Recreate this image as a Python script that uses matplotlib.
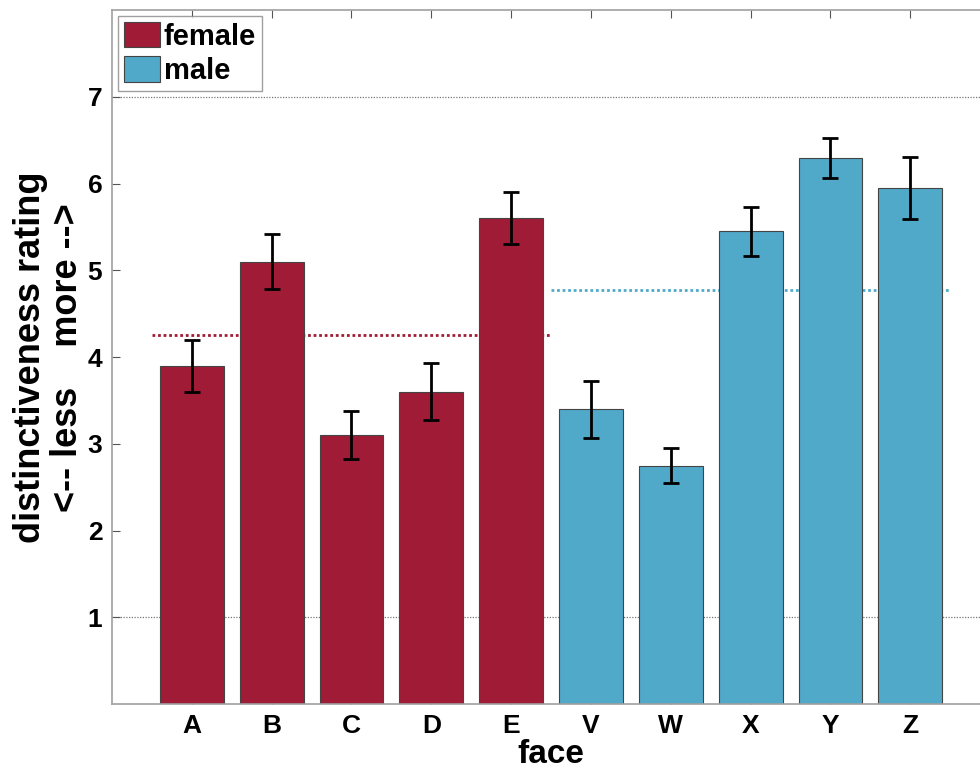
import numpy as np
import matplotlib.pyplot as plt

plt.rcParams['font.family'] = ['Liberation Sans', 'DejaVu Sans']
plt.rcParams['font.weight'] = 'bold'

# data
female_faces = ['A', 'B', 'C', 'D', 'E']
male_faces = ['V', 'W', 'X', 'Y', 'Z']
female_vals = [3.9, 5.1, 3.1, 3.6, 5.6]
male_vals = [3.4, 2.75, 5.45, 6.3, 5.95]
female_err = [0.30, 0.32, 0.28, 0.33, 0.30]
male_err = [0.33, 0.20, 0.28, 0.23, 0.36]
yticks = [1, 2, 3, 4, 5, 6, 7]

red = '#A01C36'
blue = '#50A9C9'

fig = plt.figure(figsize=(9.8, 7.7), dpi=100)
ax = fig.add_axes([0.1143, 0.0857, 0.896, 0.901])

xf = np.arange(1, 6)
xm = np.arange(6, 11)

ax.axhline(1, color='#777777', lw=0.9, ls=(0, (1, 1.2)), zorder=0)
ax.axhline(7, color='#777777', lw=0.9, ls=(0, (1, 1.2)), zorder=0)

ax.bar(xf, female_vals, 0.8, color=red, edgecolor='#444444', lw=0.8, label='female', zorder=2)
ax.bar(xm, male_vals, 0.8, color=blue, edgecolor='#444444', lw=0.8, label='male', zorder=2)
ax.errorbar(xf, female_vals, yerr=female_err, fmt='none', ecolor='black', elinewidth=2, capsize=5.5, capthick=2, zorder=3)
ax.errorbar(xm, male_vals, yerr=male_err, fmt='none', ecolor='black', elinewidth=2, capsize=5.5, capthick=2, zorder=3)

ax.plot([0.5, 5.5], [np.mean(female_vals)] * 2, color=red, lw=2, ls=(0, (1, 1)), zorder=1)
ax.plot([5.5, 10.5], [np.mean(male_vals)] * 2, color=blue, lw=2, ls=(0, (1, 1)), zorder=1)

ax.set_xlim(0, 11)
ax.set_ylim(0, 8)
ax.set_xticks(np.arange(1, 11))
ax.set_xticklabels(female_faces + male_faces, fontsize=19, fontweight='bold')
ax.set_yticks(yticks)
ax.set_yticklabels([str(v) for v in yticks], fontsize=19, fontweight='bold')
ax.tick_params(direction='in', length=6, color='#555555', top=True, right=True)
ax.tick_params(axis='x', pad=7)
ax.tick_params(axis='y', pad=7)

for s in ax.spines.values():
    s.set_color('#a0a0a0')
    s.set_linewidth(1.2)

ax.set_xlabel('face', fontsize=24, fontweight='bold', labelpad=1)
ax.set_ylabel('distinctiveness rating\n<-- less    more -->', fontsize=26,
              fontweight='bold', linespacing=1.05, labelpad=2)

leg = ax.legend(loc='upper left', bbox_to_anchor=(0.0, 1.0),
                prop={'weight': 'bold', 'size': 21}, frameon=True, fancybox=False,
                edgecolor='#888888', handlelength=1.25, handleheight=0.95,
                handletextpad=0.12, borderpad=0.2, labelspacing=0.2, borderaxespad=0.2)
leg.get_frame().set_linewidth(1.0)

fig.savefig('out.png', dpi=100)
